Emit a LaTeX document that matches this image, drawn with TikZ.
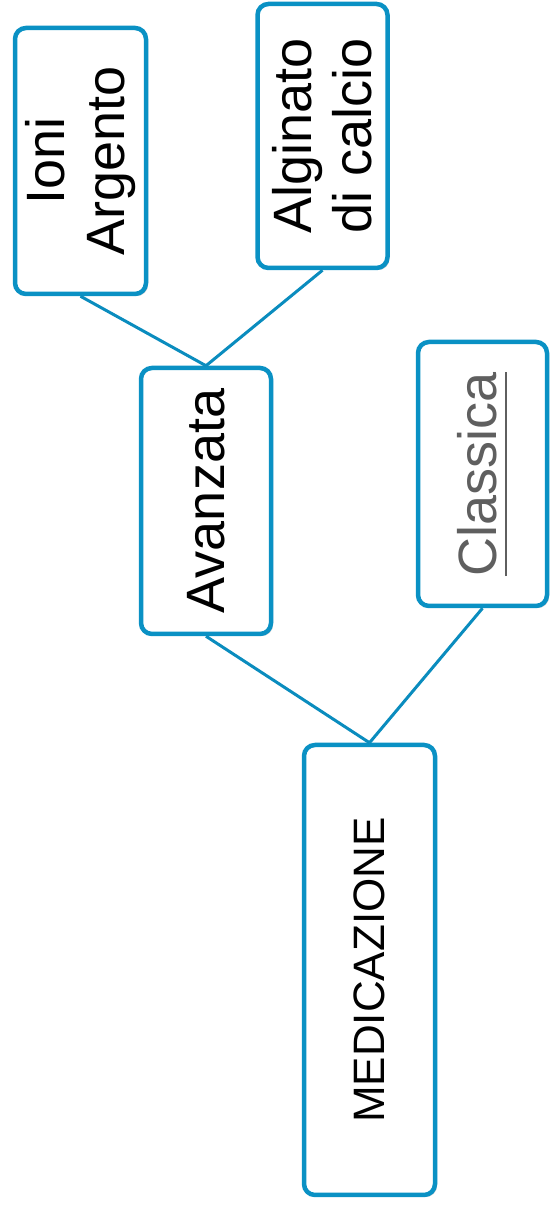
\documentclass[tikz,border=0pt]{standalone}
\usepackage{fontspec}
\setmainfont{Liberation Sans}
\usetikzlibrary{shadows}
\definecolor{boxblue}{RGB}{10,145,196}
\definecolor{linkblue}{RGB}{10,140,190}
\definecolor{txtgray}{RGB}{95,95,95}
\newcommand{\myuline}[1]{{\setbox0\hbox{#1}\rlap{\rule[-0.19em]{\wd0}{1.8pt}}\box0}}
\tikzset{
  card/.style={draw=boxblue, line width=4.5pt, rounded corners=11pt, fill=white,
    rotate=90, align=center, inner sep=0pt,
    drop shadow={shadow xshift=2pt, shadow yshift=-2pt, opacity=0.3, fill=black!60},
    text=black},
  link/.style={draw=linkblue, line width=3pt},
  bigtxt/.style={font=\fontsize{54}{60}\selectfont},
  medtxt/.style={font=\fontsize{44}{50}\selectfont}
}
\begin{document}
\begin{tikzpicture}[x=1pt,y=1pt]
\useasboundingbox (0,0) rectangle (550,1210);
\node[card, bigtxt, minimum width=266pt, minimum height=131pt] (ioni) at (80.5,1049) {Ioni\\Argento};
\node[card, bigtxt, minimum width=264pt, minimum height=130pt] (alg) at (322.5,1074) {Alginato\\di calcio};
\node[card, bigtxt, minimum width=266pt, minimum height=130pt] (avz) at (206,709) {Avanzata};
\node[card, bigtxt, minimum width=264pt, minimum height=129pt, text=txtgray] (cls) at (482.5,736) {\myuline{Classica}};
\node[card, medtxt, minimum width=450pt, minimum height=131pt] (med) at (369.5,240) {MEDICAZIONE};
\draw[link] (ioni.west) -- (avz.east);
\draw[link] (alg.west) -- (avz.east);
\draw[link] (avz.west) -- (med.east);
\draw[link] (cls.west) -- (med.east);
\end{tikzpicture}
\end{document}
